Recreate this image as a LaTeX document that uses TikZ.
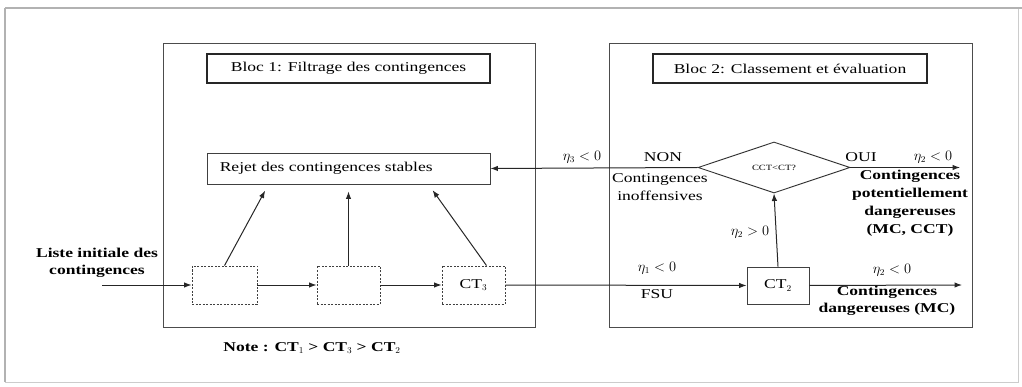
\documentclass[tikz,border=0pt]{standalone}
\usepackage{fontspec}
\setmainfont{Liberation Serif}[FakeStretch=1.3]
\usetikzlibrary{arrows.meta,shapes.geometric}
\tikzset{
  base/.style={font=\fontsize{13.5}{17.5}\selectfont, inner sep=1pt, align=center},
  frame/.style={draw=black!70, line width=0.9pt},
  titlebox/.style={draw=black!85, line width=1.6pt},
  plainbox/.style={draw=black!75, line width=0.9pt, inner sep=0pt},
  dashbox/.style={draw=black!75, line width=0.9pt, dashed, dash pattern=on 2pt off 1.5pt, inner sep=0pt},
  arr/.style={draw=black!85, line width=1pt, -{Latex[length=7.5pt,width=5.5pt]}},
  lbl/.style={base},
  blbl/.style={base, font=\fontsize{13.5}{17.5}\selectfont\bfseries},
}
\begin{document}
\begin{tikzpicture}[x=1pt,y=-1pt,every node/.style={base}]
\useasboundingbox (0,0) rectangle (1022,387);
% outer frame
\draw[gray!40, line width=0.8pt] (5,8) rectangle (1018,382);
\draw[gray!60, line width=2.4pt] (5,382) -- (5,8);
\draw[gray!60, line width=1.4pt] (5,8) -- (1022,8);
% block frames
\node[frame, minimum width=372pt, minimum height=284pt] (bloc1) at (349,185) {};
\node[frame, minimum width=363pt, minimum height=284pt] (bloc2) at (790.5,185) {};
% titles
\node[titlebox, minimum width=283pt, minimum height=29pt] (t1) at (348.5,68.5) {Bloc 1: Filtrage des contingences};
\node[titlebox, minimum width=274pt, minimum height=29pt] (t2) at (790,68.5) {Bloc 2: Classement et évaluation};
% reject box
\node[plainbox, minimum width=283pt, minimum height=31pt, anchor=center] (rejet) at (348.5,168.5) {};
\node[anchor=west] (rejettxt) at (rejet.west) {\hspace{12pt}Rejet des contingences stables};
% dashed filter boxes
\node[dashbox, minimum width=65pt, minimum height=38pt] (b1) at (224.5,285) {};
\node[dashbox, minimum width=63pt, minimum height=38pt] (b2) at (348.5,285) {};
\node[dashbox, minimum width=63pt, minimum height=38pt] (b3) at (473.5,285) {CT$_3$};
% CT2 box
\node[plainbox, minimum width=62pt, minimum height=37pt] (ct2) at (778,285.5) {CT$_2$};
% diamond
\node[draw=black!80, line width=0.9pt, diamond, minimum width=152pt, minimum height=51pt, inner sep=0pt, font=\fontsize{8}{9}\selectfont] (dia) at (774,167.5) {CCT<CT?};
% input / outputs
\coordinate (in) at (102,285);
\coordinate (out1) at (960,167.5);
\coordinate (out2) at (962,285);
\draw[arr] (in) -- (b1.west);
\draw[arr] (b1.east) -- (b2.west);
\draw[arr] (b2.east) -- (b3.west);
\draw[arr, shorten >=7pt] (b1.north) -- ([xshift=-80pt]rejet.south);
\draw[arr, shorten >=7pt] (b2.north) -- (rejet.south);
\draw[arr, shorten >=7pt] ([xshift=13pt]b3.north) -- ([xshift=80pt]rejet.south);
\draw[arr] (b3.east) -- (ct2.west);
\draw[arr] (ct2.east) -- (out2);
\draw[arr] (ct2.north) -- (dia.south);
\draw[arr] (dia.west) -- (rejet.east);
\draw[arr] (dia.east) -- (out1);
% labels
\node[blbl] (liste) at (97,263) {Liste initiale des\\contingences};
\node[blbl] (note) at (312,348) {Note : CT$_1$ > CT$_3$ > CT$_2$};
\node[lbl] (e3) at (582,157) {$\eta_3<0$};
\node[lbl] (non) at (663,157) {NON};
\node[lbl] (inoff) at (660,187) {Contingences\\inoffensives};
\node[lbl] (oui) at (861,157) {OUI};
\node[lbl] (e2a) at (933,157) {$\eta_2<0$};
\node[blbl, font=\fontsize{13.5}{18}\selectfont\bfseries] (pot) at (910,203) {Contingences\\potentiellement\\dangereuses\\(MC, CCT)};
\node[lbl] (e2b) at (750,232) {$\eta_2>0$};
\node[lbl] (e1) at (657,268) {$\eta_1<0$};
\node[lbl] (fsu) at (657,294) {FSU};
\node[lbl] (e2c) at (892,270) {$\eta_2<0$};
\node[blbl] (dang) at (887,301) {Contingences\\dangereuses (MC)};
\end{tikzpicture}
\end{document}
